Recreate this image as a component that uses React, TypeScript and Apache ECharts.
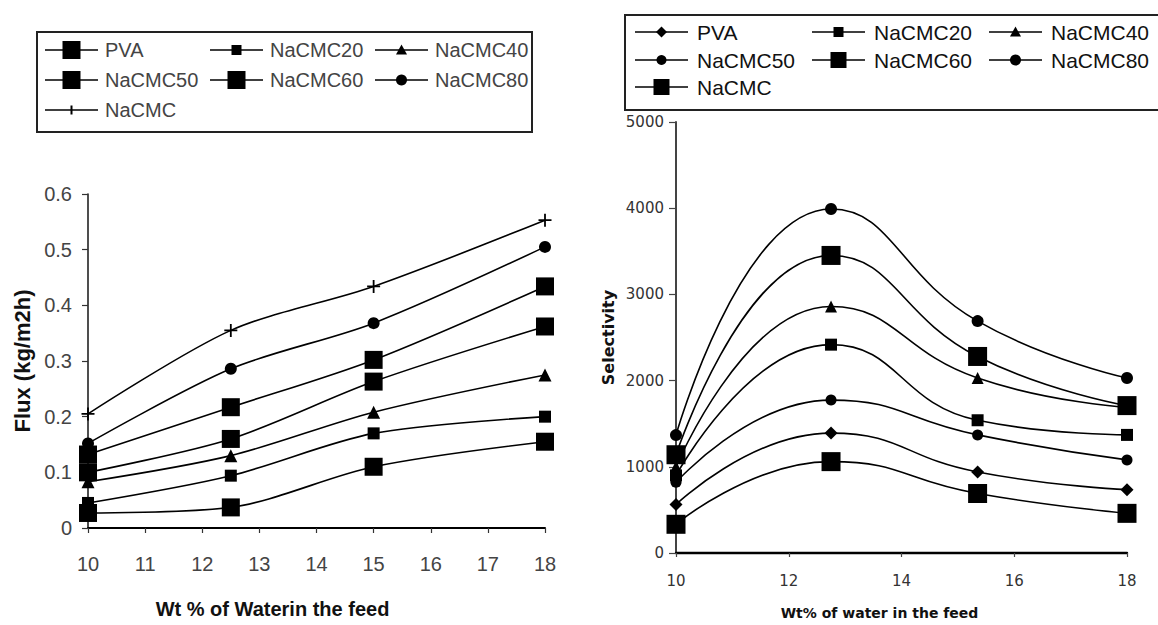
import React, { useEffect, useRef } from "react";
import * as echarts from "echarts";

// ---- Flux vs water content (left panel) ----
const fluxWater = [10, 12.5, 15, 18];
const fluxPVA = [0.027, 0.037, 0.11, 0.155];
const fluxNaCMC20 = [0.045, 0.094, 0.17, 0.2];
const fluxNaCMC40 = [0.083, 0.13, 0.208, 0.275];
const fluxNaCMC50 = [0.1, 0.16, 0.263, 0.362];
const fluxNaCMC60 = [0.132, 0.217, 0.302, 0.434];
const fluxNaCMC80 = [0.152, 0.286, 0.368, 0.505];
const fluxNaCMC = [0.205, 0.355, 0.434, 0.553];

// ---- Selectivity vs water content (right panel) ----
const selWater = [10, 12.75, 15.35, 18];
const selPVA = [563, 1391, 940, 735];
const selNaCMC20 = [900, 2417, 1540, 1370];
const selNaCMC40 = [1000, 2860, 2030, 1690];
const selNaCMC50 = [820, 1774, 1370, 1080];
const selNaCMC60 = [1140, 3452, 2280, 1710];
const selNaCMC80 = [1368, 3990, 2690, 2030];
const selNaCMC = [333, 1060, 690, 460];

type Mark = "bigSquare" | "smallSquare" | "triangle" | "circle" | "plus" | "diamond";

interface SeriesDef {
  name: string;
  data: number[];
  mark: Mark;
  size: number;
  legendSize: number;
}

const fluxSeries: SeriesDef[] = [
  { name: "PVA", data: fluxPVA, mark: "bigSquare", size: 18, legendSize: 18 },
  { name: "NaCMC20", data: fluxNaCMC20, mark: "smallSquare", size: 12, legendSize: 10 },
  { name: "NaCMC40", data: fluxNaCMC40, mark: "triangle", size: 13, legendSize: 11 },
  { name: "NaCMC50", data: fluxNaCMC50, mark: "bigSquare", size: 18, legendSize: 18 },
  { name: "NaCMC60", data: fluxNaCMC60, mark: "bigSquare", size: 18, legendSize: 18 },
  { name: "NaCMC80", data: fluxNaCMC80, mark: "circle", size: 12, legendSize: 11 },
  { name: "NaCMC", data: fluxNaCMC, mark: "plus", size: 13, legendSize: 9 },
];

const selSeries: SeriesDef[] = [
  { name: "PVA", data: selPVA, mark: "diamond", size: 13, legendSize: 11 },
  { name: "NaCMC20", data: selNaCMC20, mark: "smallSquare", size: 12, legendSize: 10 },
  { name: "NaCMC40", data: selNaCMC40, mark: "triangle", size: 12, legendSize: 11 },
  { name: "NaCMC50", data: selNaCMC50, mark: "circle", size: 11, legendSize: 10 },
  { name: "NaCMC60", data: selNaCMC60, mark: "bigSquare", size: 19, legendSize: 16 },
  { name: "NaCMC80", data: selNaCMC80, mark: "circle", size: 12, legendSize: 11 },
  { name: "NaCMC", data: selNaCMC, mark: "bigSquare", size: 19, legendSize: 16 },
];

const PLUS_PATH = "path://M5.6,0H7.4V5.6H13V7.4H7.4V13H5.6V7.4H0V5.6H5.6Z";
const SANS = '"Liberation Sans", Arial, sans-serif';
const DEJAVU = '"DejaVu Sans", sans-serif';

function symbolOf(mark: Mark): string {
  switch (mark) {
    case "bigSquare":
    case "smallSquare":
      return "rect";
    case "triangle":
      return "triangle";
    case "circle":
      return "circle";
    case "diamond":
      return "diamond";
    default:
      return PLUS_PATH;
  }
}

// Marker pieces drawn inside a legend row
function legendMarker(mark: Mark, cx: number, cy: number, s: number): any[] {
  const h = s / 2;
  const style = { fill: "#000" };
  const z = 12;
  switch (mark) {
    case "bigSquare":
    case "smallSquare":
      return [{ type: "rect", z, shape: { x: cx - h, y: cy - h, width: s, height: s }, style }];
    case "circle":
      return [{ type: "circle", z, shape: { cx, cy, r: h }, style }];
    case "triangle":
      return [
        {
          type: "polygon",
          z,
          shape: { points: [[cx, cy - h], [cx + h, cy + h * 0.8], [cx - h, cy + h * 0.8]] },
          style,
        },
      ];
    case "diamond":
      return [
        {
          type: "polygon",
          z,
          shape: { points: [[cx, cy - h], [cx + h, cy], [cx, cy + h], [cx - h, cy]] },
          style,
        },
      ];
    default:
      return [{ type: "rect", z, shape: { x: cx - 1, y: cy - h, width: 2, height: s }, style }];
  }
}

interface LegendLayout {
  box: { x: number; y: number; w: number; h: number };
  rows: number[];
  lineX: number;
  pitch: number;
  lineLen: number;
  textGap: number;
  fontSize: number;
  fontFamily: string;
  textColor: string;
}

function buildLegend(defs: SeriesDef[], lay: LegendLayout): any[] {
  const els: any[] = [
    {
      type: "rect",
      shape: { x: lay.box.x, y: lay.box.y, width: lay.box.w, height: lay.box.h },
      style: { fill: "#fff", stroke: "#222", lineWidth: 2 },
      z: 10,
    },
  ];
  defs.forEach((d, i) => {
    const col = i % 3;
    const row = Math.floor(i / 3);
    const x0 = lay.lineX + col * lay.pitch;
    const cy = lay.rows[row];
    els.push({
      type: "line",
      shape: { x1: x0, y1: cy, x2: x0 + lay.lineLen, y2: cy },
      style: { stroke: "#000", lineWidth: 1.6 },
      z: 11,
    });
    els.push(...legendMarker(d.mark, x0 + lay.lineLen / 2, cy, d.legendSize));
    els.push({
      type: "text",
      x: x0 + lay.lineLen + lay.textGap,
      y: cy,
      z: 12,
      style: {
        text: d.name,
        fontSize: lay.fontSize,
        fontFamily: lay.fontFamily,
        fill: lay.textColor,
        align: "left",
        verticalAlign: "middle",
      },
    });
  });
  return els;
}

function lineSeries(defs: SeriesDef[], xs: number[], axis: number, smooth: number): any[] {
  return defs.map((d) => ({
    type: "line",
    name: d.name,
    xAxisIndex: axis,
    yAxisIndex: axis,
    data: xs.map((x, i) => [x, d.data[i]]),
    smooth,
    symbol: symbolOf(d.mark),
    symbolSize: d.size,
    showSymbol: true,
    lineStyle: { color: "#000", width: 1.6 },
    itemStyle: { color: "#000", borderWidth: 0 },
    emphasis: { disabled: true },
  }));
}

export default function App() {
  const ref = useRef<HTMLDivElement>(null);

  useEffect(() => {
    if (!ref.current) return;
    const chart = echarts.init(ref.current, undefined, { renderer: "svg" });

    const option: any = {
      animation: false,
      backgroundColor: "#fff",
      grid: [
        { left: 88, right: 613, top: 194, bottom: 97 },
        { left: 676, right: 31, top: 122, bottom: 68 },
      ],
      xAxis: [
        {
          type: "value",
          gridIndex: 0,
          min: 10,
          max: 18,
          interval: 1,
          splitLine: { show: false },
          axisLine: { lineStyle: { color: "#000", width: 2 } },
          axisTick: { length: 5, lineStyle: { color: "#333", width: 1.2 } },
          axisLabel: { margin: 26, fontSize: 20, fontFamily: SANS, color: "#444" },
          name: "Wt % of Waterin the feed",
          nameLocation: "middle",
          nameGap: 71,
          nameTextStyle: {
            fontSize: 20,
            fontWeight: "bold",
            fontFamily: SANS,
            color: "#111",
            padding: [0, 88, 0, 0],
          },
        },
        {
          type: "value",
          gridIndex: 1,
          min: 10,
          max: 18,
          interval: 2,
          splitLine: { show: false },
          axisLine: { lineStyle: { color: "#000", width: 2.4 } },
          axisTick: { length: 4, lineStyle: { color: "#444", width: 1.2 } },
          axisLabel: { margin: 20, fontSize: 15, fontFamily: DEJAVU, color: "#333" },
          name: "Wt% of water in the feed",
          nameLocation: "middle",
          nameGap: 53,
          nameTextStyle: {
            fontSize: 14,
            fontWeight: "bold",
            fontFamily: DEJAVU,
            color: "#111",
            padding: [0, 44, 0, 0],
          },
        },
      ],
      yAxis: [
        {
          type: "value",
          gridIndex: 0,
          min: 0,
          max: 0.6,
          interval: 0.1,
          splitLine: { show: false },
          axisLine: { show: true, lineStyle: { color: "#222", width: 1.6 } },
          axisTick: { show: true, length: 6, lineStyle: { color: "#333", width: 1.2 } },
          axisLabel: { margin: 16, fontSize: 20, fontFamily: SANS, color: "#444" },
          name: "Flux (kg/m2h)",
          nameLocation: "middle",
          nameGap: 55,
          nameTextStyle: { fontSize: 22, fontWeight: "bold", fontFamily: SANS, color: "#111" },
        },
        {
          type: "value",
          gridIndex: 1,
          min: 0,
          max: 5000,
          interval: 1000,
          splitLine: { show: false },
          axisLine: { show: true, lineStyle: { color: "#444", width: 2 } },
          axisTick: { show: true, length: 7, lineStyle: { color: "#444", width: 1.2 } },
          axisLabel: {
            margin: 12,
            fontSize: 15,
            fontFamily: DEJAVU,
            color: "#333",
            formatter: (v: number) => String(v),
          },
          name: "Selectivity",
          nameLocation: "middle",
          nameGap: 60,
          nameTextStyle: { fontSize: 16, fontWeight: "bold", fontFamily: DEJAVU, color: "#111" },
        },
      ],
      series: [
        ...lineSeries(fluxSeries, fluxWater, 0, 0.3),
        ...lineSeries(selSeries, selWater, 1, 0.5),
      ],
      graphic: [
        ...buildLegend(fluxSeries, {
          box: { x: 37, y: 32, w: 495, h: 100 },
          rows: [50, 80, 110],
          lineX: 45,
          pitch: 165,
          lineLen: 53,
          textGap: 7,
          fontSize: 20,
          fontFamily: SANS,
          textColor: "#444",
        }),
        ...buildLegend(selSeries, {
          box: { x: 625, y: 15, w: 545, h: 95 },
          rows: [32, 60, 87],
          lineX: 635,
          pitch: 177,
          lineLen: 53,
          textGap: 9,
          fontSize: 21,
          fontFamily: SANS,
          textColor: "#111",
        }),
      ],
    };

    chart.setOption(option);
    return () => chart.dispose();
  }, []);

  return (
    <div
      ref={ref}
      style={{ position: "fixed", left: 0, top: 0, width: 1158, height: 625, background: "#fff" }}
    />
  );
}
